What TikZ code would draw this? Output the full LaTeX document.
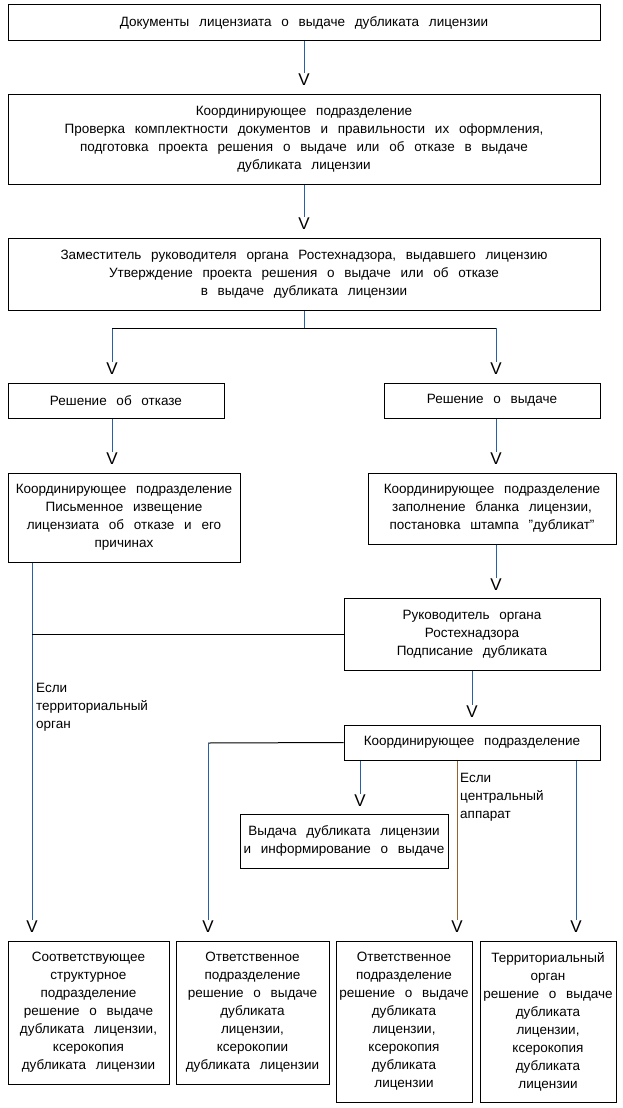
\documentclass[tikz,border=0pt]{standalone}
\usepackage{fontspec}
\setmainfont[WordSpace=2.6]{Liberation Sans}
\definecolor{vline}{RGB}{40,95,165}
\definecolor{oline}{RGB}{150,100,40}
\tikzset{
  box/.style={draw=black, line width=1pt, align=center, inner sep=0pt,
    font=\fontsize{13.5}{18}\selectfont},
  vmark/.style={inner sep=1pt, font=\fontsize{17}{17}\selectfont},
  conn/.style={draw=vline, line width=1pt},
  hconn/.style={draw=black, line width=1pt},
  lbl/.style={align=left, inner sep=0pt, anchor=west, font=\fontsize{13.5}{18}\selectfont},
}
\newcommand\bx[6]{\node[box, minimum width={#4-#2}, minimum height={#5-#3}] (#1) at ({(#2+#4)/2},{(#3+#5)/2}) {#6};}
\begin{document}
\begin{tikzpicture}[x=1pt,y=-1pt]
\useasboundingbox (0,0) rectangle (622,1108);
\fill[white] (0,0) rectangle (622,1108);

\bx{b1}{8}{5}{600}{41}{Документы лицензиата о выдаче дубликата лицензии}
\bx{b2}{8}{94}{600}{184}{Координирующее подразделение\\Проверка комплектности документов и правильности их оформления,\\подготовка проекта решения о выдаче или об отказе в выдаче\\дубликата лицензии}
\bx{b3}{8}{238}{600}{310}{Заместитель руководителя органа Ростехнадзора, выдавшего лицензию\\Утверждение проекта решения о выдаче или об отказе\\в выдаче дубликата лицензии}
\bx{b4}{8}{383}{224}{418}{Решение об отказе}
\bx{b5}{384}{383}{600}{418}{Решение о выдаче}
\bx{b6}{8}{473}{240}{562}{Координирующее подразделение\\Письменное извещение\\лицензиата об отказе и его\\причинах}
\bx{b7}{368}{473}{616}{544}{Координирующее подразделение\\заполнение бланка лицензии,\\постановка штампа "дубликат"}
\bx{b8}{344}{598}{600}{670}{Руководитель органа\\Ростехнадзора\\Подписание дубликата}
\bx{b9}{344}{725}{600}{760}{Координирующее подразделение}
\bx{b10}{240}{814}{448}{868}{Выдача дубликата лицензии\\и информирование о выдаче}
\bx{c1}{8}{941}{169}{1084}{Соответствующее\\структурное\\подразделение\\решение о выдаче\\дубликата лицензии,\\ксерокопия\\дубликата лицензии}
\bx{c2}{176}{941}{329}{1084}{Ответственное\\подразделение\\решение о выдаче\\дубликата\\лицензии,\\ксерокопии\\дубликата лицензии}
\bx{c3}{336}{941}{472}{1102}{Ответственное\\подразделение\\решение о выдаче\\дубликата\\лицензии,\\ксерокопия\\дубликата\\лицензии}
\bx{c4}{480}{941}{616}{1102}{Территориальный\\орган\\решение о выдаче\\дубликата\\лицензии,\\ксерокопия\\дубликата\\лицензии}

% V marks
\node[vmark] (v1) at (304,80) {V};
\node[vmark] (v2) at (304,224) {V};
\node[vmark] (v3l) at (112,369) {V};
\node[vmark] (v3r) at (496,369) {V};
\node[vmark] (v4) at (112,459) {V};
\node[vmark] (v5) at (496,459) {V};
\node[vmark] (v7) at (496,585) {V};
\node[vmark] (v8) at (472,712) {V};
\node[vmark] (v9) at (360,801) {V};
\node[vmark] (w1) at (32,927) {V};
\node[vmark] (w2) at (208,927) {V};
\node[vmark] (w3) at (457,927) {V};
\node[vmark] (w4) at (576,927) {V};

\coordinate (j1) at (304,328);
\coordinate (j2) at (32,634);
\coordinate (j3) at (208,743);

% connectors
\draw[conn] (b1.south) -- (v1.north);
\draw[conn] (b2.south) -- (v2.north);
\draw[conn] (b3.south) -- (j1);
\draw[conn] (v3l.north) -- (v3l.north |- j1);
\draw[conn] (v3r.north) -- (v3r.north |- j1);
\draw[hconn] (v3l.north |- j1) -- (v3r.north |- j1);
\draw[conn] (v4.north |- b4.south) -- (v4.north);
\draw[conn] (v5.north |- b5.south) -- (v5.north);
\draw[conn] (v7.north |- b7.south) -- (v7.north);
\draw[conn] (w1.north |- b6.south) -- (w1.north);
\draw[hconn] (j2) -- (b8.west);
\draw[conn] (v8.north |- b8.south) -- (v8.north);
\draw[hconn] (b9.west) -- (j3);
\draw[conn] (j3) -- (w2.north);
\draw[conn] (v9.north |- b9.south) -- (v9.north);
\draw[draw=oline, line width=1pt] (w3.north |- b9.south) -- (w3.north);
\draw[conn] (w4.north |- b9.south) -- (w4.north);

% labels
\node[lbl] (l1) at (36,707) {Если\\территориальный\\орган};
\node[lbl] (l2) at (460,797) {Если\\центральный\\аппарат};
\end{tikzpicture}
\end{document}
